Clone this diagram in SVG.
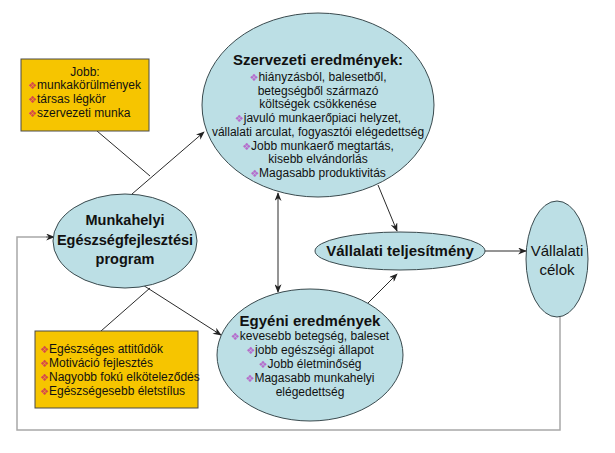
<svg xmlns="http://www.w3.org/2000/svg" width="615" height="453" viewBox="0 0 615 453">
<style>
.ell{fill:#bcdfe5;stroke:#3a4a4e;stroke-width:1}
.box{fill:#f6c500;stroke:#4a4a4a;stroke-width:1}
.t{font-family:"Liberation Sans",Arial,sans-serif;fill:#111}
.b{font-weight:bold;font-size:15px}
.s{font-size:12px}
.c{text-anchor:middle}
.bp{font-family:"DejaVu Sans",sans-serif;font-size:10px;fill:#b46ccc}
.br{font-family:"DejaVu Sans",sans-serif;font-size:10px;fill:#d5474f}
.ln{stroke:#2a2a2a;stroke-width:1;fill:none}
.fb{stroke:#a8a8a8;stroke-width:1.5;fill:none}
</style>
<defs>
<marker id="ah" viewBox="0 0 10 8" refX="9" refY="4" markerWidth="9" markerHeight="7" orient="auto" markerUnits="userSpaceOnUse">
<path d="M0,0 L10,4 L0,8 L3,4 z" fill="#222"/>
</marker>
<marker id="as" viewBox="0 0 10 8" refX="9" refY="4" markerWidth="9" markerHeight="7" orient="auto-start-reverse" markerUnits="userSpaceOnUse">
<path d="M0,0 L10,4 L0,8 L3,4 z" fill="#222"/>
</marker>
</defs>

<g id="connectors">
<path class="fb" d="M560,317 V430 H17 V237 H46"/>
<line class="ln" x1="46" y1="237" x2="54" y2="237" marker-end="url(#ah)"/>
<line class="ln" x1="97" y1="131" x2="150" y2="176"/>
<line class="ln" x1="101" y1="331" x2="150" y2="288"/>
<line class="ln" x1="132" y1="194" x2="204" y2="132" marker-end="url(#ah)"/>
<line class="ln" x1="135" y1="280" x2="221" y2="335" marker-end="url(#ah)"/>
<line class="ln" x1="278" y1="193" x2="278" y2="292" marker-start="url(#as)" marker-end="url(#as)"/>
<line class="ln" x1="378" y1="185" x2="397" y2="231" marker-end="url(#ah)"/>
<line class="ln" x1="368" y1="303" x2="397" y2="274" marker-end="url(#ah)"/>
<line class="ln" x1="485" y1="251" x2="526" y2="251" marker-end="url(#ah)"/>
</g>

<g id="box-jobb">
<rect class="box" x="21" y="59" width="128" height="72"/>
<text class="t s c" x="85" y="76">Jobb:</text>
<text class="t s" x="28" y="89"><tspan class="br">❖</tspan>munkakörülmények</text>
<text class="t s" x="28" y="103"><tspan class="br">❖</tspan>társas légkör</text>
<text class="t s" x="28" y="117"><tspan class="br">❖</tspan>szervezeti munka</text>
</g>

<g id="box-egyeni">
<rect class="box" x="35" y="331" width="163" height="77"/>
<text class="t s" x="40" y="353"><tspan class="br">❖</tspan>Egészséges attitűdök</text>
<text class="t s" x="40" y="367"><tspan class="br">❖</tspan>Motiváció fejlesztés</text>
<text class="t s" x="40" y="381"><tspan class="br">❖</tspan>Nagyobb fokú elköteleződés</text>
<text class="t s" x="40" y="395"><tspan class="br">❖</tspan>Egészségesebb életstílus</text>
</g>

<g id="node-szervezeti">
<ellipse class="ell" cx="318" cy="105" rx="116" ry="92"/>
<text class="t b c" x="318" y="65">Szervezeti eredmények:</text>
<text class="t s c" x="318" y="81"><tspan class="bp">❖</tspan>hiányzásból, balesetből,</text>
<text class="t s c" x="318" y="94.7">betegségből származó</text>
<text class="t s c" x="318" y="108.4">költségek csökkenése</text>
<text class="t s c" x="318" y="122.1"><tspan class="bp">❖</tspan>javuló munkaerőpiaci helyzet,</text>
<text class="t s c" x="318" y="135.8">vállalati arculat, fogyasztói elégedettség</text>
<text class="t s c" x="318" y="149.5"><tspan class="bp">❖</tspan>Jobb munkaerő megtartás,</text>
<text class="t s c" x="318" y="163.2">kisebb elvándorlás</text>
<text class="t s c" x="318" y="176.9"><tspan class="bp">❖</tspan>Magasabb produktivitás</text>
</g>

<g id="node-program">
<ellipse class="ell" cx="125" cy="241" rx="72" ry="47"/>
<text class="t b c" x="125" y="225" style="font-size:14.5px">Munkahelyi</text>
<text class="t b c" x="125" y="245" style="font-size:14.5px">Egészségfejlesztési</text>
<text class="t b c" x="125" y="264" style="font-size:14.5px">program</text>
</g>

<g id="node-egyeni">
<ellipse class="ell" cx="310" cy="355" rx="93" ry="66"/>
<text class="t b c" x="310" y="326">Egyéni eredmények</text>
<text class="t s c" x="310" y="340"><tspan class="bp">❖</tspan>kevesebb betegség, baleset</text>
<text class="t s c" x="310" y="354"><tspan class="bp">❖</tspan>jobb egészségi állapot</text>
<text class="t s c" x="310" y="368"><tspan class="bp">❖</tspan>Jobb életminőség</text>
<text class="t s c" x="310" y="382"><tspan class="bp">❖</tspan>Magasabb munkahelyi</text>
<text class="t s c" x="310" y="396">elégedettség</text>
</g>

<g id="node-teljesitmeny">
<ellipse class="ell" cx="400" cy="251" rx="85" ry="19"/>
<text class="t b c" x="400" y="256">Vállalati teljesítmény</text>
</g>

<g id="node-celok">
<ellipse class="ell" cx="557" cy="259" rx="31" ry="58"/>
<text class="t c" x="557" y="256" style="font-size:15px">Vállalati</text>
<text class="t c" x="557" y="275" style="font-size:15px">célok</text>
</g>
</svg>
